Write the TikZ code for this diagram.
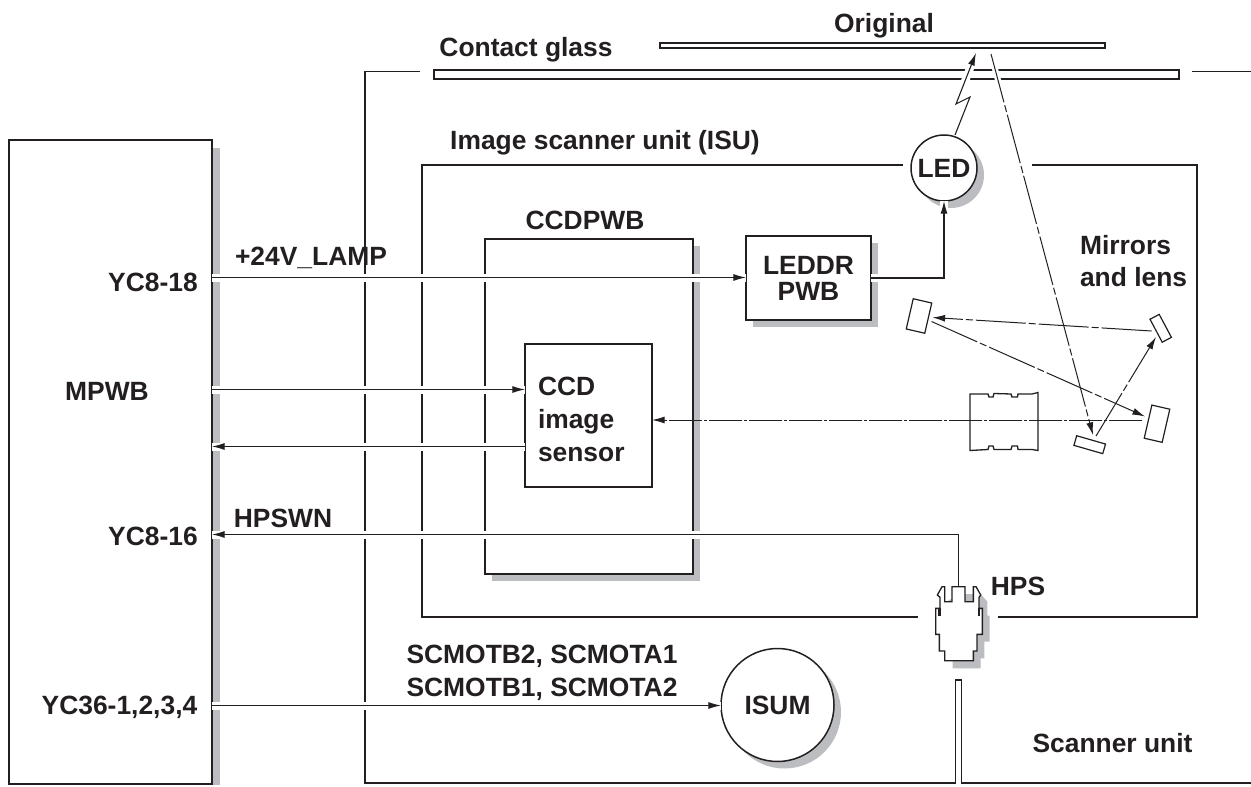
\documentclass[tikz,border=0pt]{standalone}
\usepackage{fontspec}
\setmainfont{Liberation Sans}
\usepackage{xcolor}
\usepackage{tikz}
\usetikzlibrary{arrows.meta,calc,positioning,shadows}
\definecolor{koyuCizgi}{HTML}{231F20}
\definecolor{golgeGri}{HTML}{BBBDC0}

\begin{document}
\begin{tikzpicture}[x=0.5pt,y=-0.5pt, every node/.style={font=\fontsize{13.2}{13}\selectfont\bfseries,text=koyuCizgi,inner sep=0pt,outer sep=0pt},
  kutu/.style={draw=koyuCizgi,fill=white,line width=0.75pt},
  golge/.style={drop shadow={shadow xshift=3.5pt,shadow yshift=-3.5pt,fill=golgeGri,opacity=1}},
  cerceve/.style={draw=koyuCizgi,line width=0.7pt},
  hat/.style={draw=koyuCizgi,line width=0.55pt,preaction={draw=white,line width=4pt,-{}}},
  okHat/.style={hat,-{Latex[length=6.3pt,width=3.5pt]}},
  isin/.style={draw=koyuCizgi,line width=0.5pt,dash pattern=on 25pt off 1.5pt on 3.5pt off 1.5pt,-{Latex[length=6.3pt,width=3.5pt]}},
  ayna/.style={kutu,line width=0.6pt,anchor=center}]
\useasboundingbox (0,0) rectangle (1251,786);
% frames
\draw[cerceve] (420,71.5)--(365,71.5)--(365,783)--(955.5,783)--(955.5,680)--(961.5,680)--(961.5,783)--(1251,783);
\draw[cerceve] (1192,71.5)--(1251,71.5);
\draw[cerceve] (903,165)--(422,165)--(422,617)--(918,617);
\draw[cerceve] (1032,165)--(1197,165)--(1197,617)--(998,617);
\node[kutu,minimum width=372.5pt,minimum height=4.5pt] (glass) at (806.5,74.5) {};
\node[kutu,minimum width=222.5pt,minimum height=2.5pt] (original) at (882.5,45.5) {};
\node (origlbl) at (884,26) {Original};
\node (glasslbl) at (526,50) {Contact glass};
\node (isulbl) at (605,143) {Image scanner unit (ISU)};
% boards
\fill[golgeGri] (212,148) rectangle (220,785);
\node[kutu,minimum width=101.5pt,minimum height=322pt] (mpwb) at (110.5,462) {};
\node[kutu,golge,minimum width=104pt,minimum height=167.5pt] (ccdpwb) at (589,406.5) {};
\node[kutu,minimum width=63.5pt,minimum height=71.5pt] (sensor) at (588.5,415.5) {};
\node[kutu,golge,minimum width=62.5pt,minimum height=42pt,align=center] (leddr) at (808.5,278) {LEDDR\\PWB};
\node[kutu,golge,circle,minimum size=33pt] (led) at (944,168) {LED};
\node[kutu,golge,circle,minimum size=56.5pt] (isum) at (777.5,705) {ISUM};
\node[anchor=west,align=left] (ccdtxt) at (538,419) {CCD\\[3.5pt]image\\[3.5pt]sensor};
\node (ccdlbl) at (585,220) {CCDPWB};
\node (mpwblbl) at (107,391) {MPWB};
\node (yc18) at (153,282) {YC8-18};
\node (yc16) at (153,536) {YC8-16};
\node (yc36) at (119.5,707) {YC36-1,2,3,4};
\node (lamp) at (311,258) {+24V\_LAMP};
\node (hpswn) at (283,518) {HPSWN};
\node (hpslbl) at (1018,586) {HPS};
\node[align=center] (motlbl) at (542,673) {SCMOTB2, SCMOTA1\\[3.5pt]SCMOTB1, SCMOTA2};
\node[anchor=west,align=left] (mirlbl) at (1080,261) {Mirrors\\[3pt]and lens};
\node (scanlbl) at (1112.5,743) {Scanner unit};
% optics
\node[ayna,minimum width=9.5pt,minimum height=15.5pt,rotate=-13] (m1) at (919,316) {};
\node[ayna,minimum width=5.2pt,minimum height=13pt,rotate=28] (m2) at (1160.7,328.3) {};
\node[ayna,minimum width=9.2pt,minimum height=17pt,rotate=-13] (m3) at (1157,423.7) {};
\node[ayna,minimum width=15pt,minimum height=5pt,rotate=-16] (m4) at (1089.7,444.7) {};
\coordinate (orjA) at (976,53);
\coordinate (orjB) at (991,54);
\coordinate (m4in) at (1093,435);
\coordinate (m4out) at (1096,436);
\coordinate (m2in) at (1156,337);
\coordinate (m2out) at (1151.5,331);
\coordinate (m1in) at (932.5,317.5);
\coordinate (m1out) at (931.5,321.5);
\coordinate (m3in) at (1145,416.5);
\coordinate (m3out) at (1142,420);
\draw[isin,preaction={draw=white,line width=3pt,-{},solid}] (orjB)--(m4in);
\draw[isin] (m4out)--(m2in);
\draw[isin] (m2out)--(m1in);
\draw[isin] (m1out)--(m3in);
\draw[isin,dash pattern=on 16.5pt off 1pt on 1.5pt off 1pt] (m3out)--(sensor.east |- m3out);
\draw[cerceve,line width=0.65pt] (970,394)--(988,394)--(989,397)--(993,397)--(994,393.5)--(1011,394)--(1012,397)--(1017.5,397)--(1018,394)--(1032,394)--(1038,392.5)--(1038,450.5)--(1032,449.5)--(1018,449.5)--(1017.5,446)--(1012,446)--(1011,449.5)--(994,449.5)--(993,446)--(989,446)--(988,449.5)--(970,450.5)--cycle;
\draw[okHat] (955,135)--(970,97)--(956,104)--(orjA);
% wires
\coordinate (p18) at (mpwb.east |- 0,277.5);
\coordinate (p16) at (mpwb.east |- 0,534.5);
\coordinate (p36) at (mpwb.east |- 0,705.5);
\coordinate (pin) at (mpwb.east |- 0,389.5);
\coordinate (pout) at (mpwb.east |- 0,446.5);
\draw[okHat] (p18)--(p18 -| leddr.west);
\draw[okHat] (pin)--(pin -| sensor.west);
\draw[okHat] (pout -| sensor.west)--(pout);
\draw[okHat] (leddr.east)--(leddr.east -| led.south)--(led.south);
\draw[okHat] (p36)--(p36 -| isum.west);
\coordinate (hpsust) at (958.5,587);
\draw[okHat] (hpsust)--(hpsust |- p16)--(p16);
% switch
\begin{scope}[shift={(880,540)},x=0.1667pt,y=-0.1667pt]
\fill[golgeGri] (238,162)--(302,162)--(322,185)--(322,227)--(329,227)--(329,305)--(313,305)--(313,355)--(302,355)--(302,385)--(218,385)--(218,300)--(190,250)--(200,185)--cycle;
\draw[kutu,line width=0.65pt,fill=white] (216,140)--(216,185)--(194,185)--(194,140)--(186,140)--(172,165)--(180,172)--(180,205)--(167,205)--(167,283)--(178,283)--(178,333)--(194,333)--(194,362)--(280,362)--(280,333)--(291,333)--(291,283)--(307,283)--(307,205)--(297,205)--(297,172)--(302,165)--(288,140)--(280,140)--(280,185)--(255,185)--(255,140)--cycle;
\draw[line width=1.2pt,draw=koyuCizgi] (179,205)--(179,228) (296,205)--(296,228);
\end{scope}
\end{tikzpicture}
\end{document}
